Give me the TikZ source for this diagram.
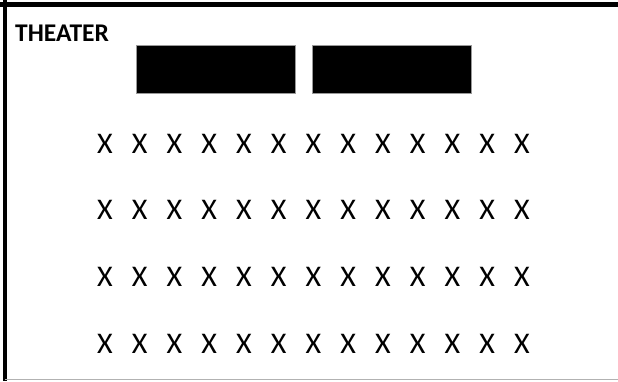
\documentclass[tikz,border=0pt]{standalone}
\usepackage{fontspec}
\setmainfont{Carlito}
\begin{document}
\begin{tikzpicture}[x=1pt, y=-1pt,
  frame/.style={line width=4.5pt, black},
  floor/.style={line width=1.5pt, black!30},
  screen/.style={draw=black!40, line width=0.8pt, fill=black, inner sep=0pt,
                 minimum width=159pt, minimum height=48pt},
  seat/.style={font=\fontsize{30}{30}\selectfont, inner sep=0pt},
  title/.style={font=\fontsize{25.5}{25.5}\selectfont\bfseries, inner sep=0pt,
                anchor=base west},
]
\useasboundingbox (0,0) rectangle (618,381);
% room outline
\draw[frame] (0,4.5) -- (618,4.5);
\draw[frame] (5,0) -- (5,381);
\draw[floor] (5,379.5) -- (618,379.5);
% label and screens
\node[title] (theater) at (15,41.5) {THEATER};
\node[screen] (screenL) at (215.5,69) {};
\node[screen] (screenR) at (392,69) {};
% seats
\foreach \r [count=\i] in {143.5,210,277,344}
  \foreach \c in {0,...,12}
    \node[seat] (seat-\i-\c) at ({105+34.75*\c},\r) {X};
\end{tikzpicture}
\end{document}
